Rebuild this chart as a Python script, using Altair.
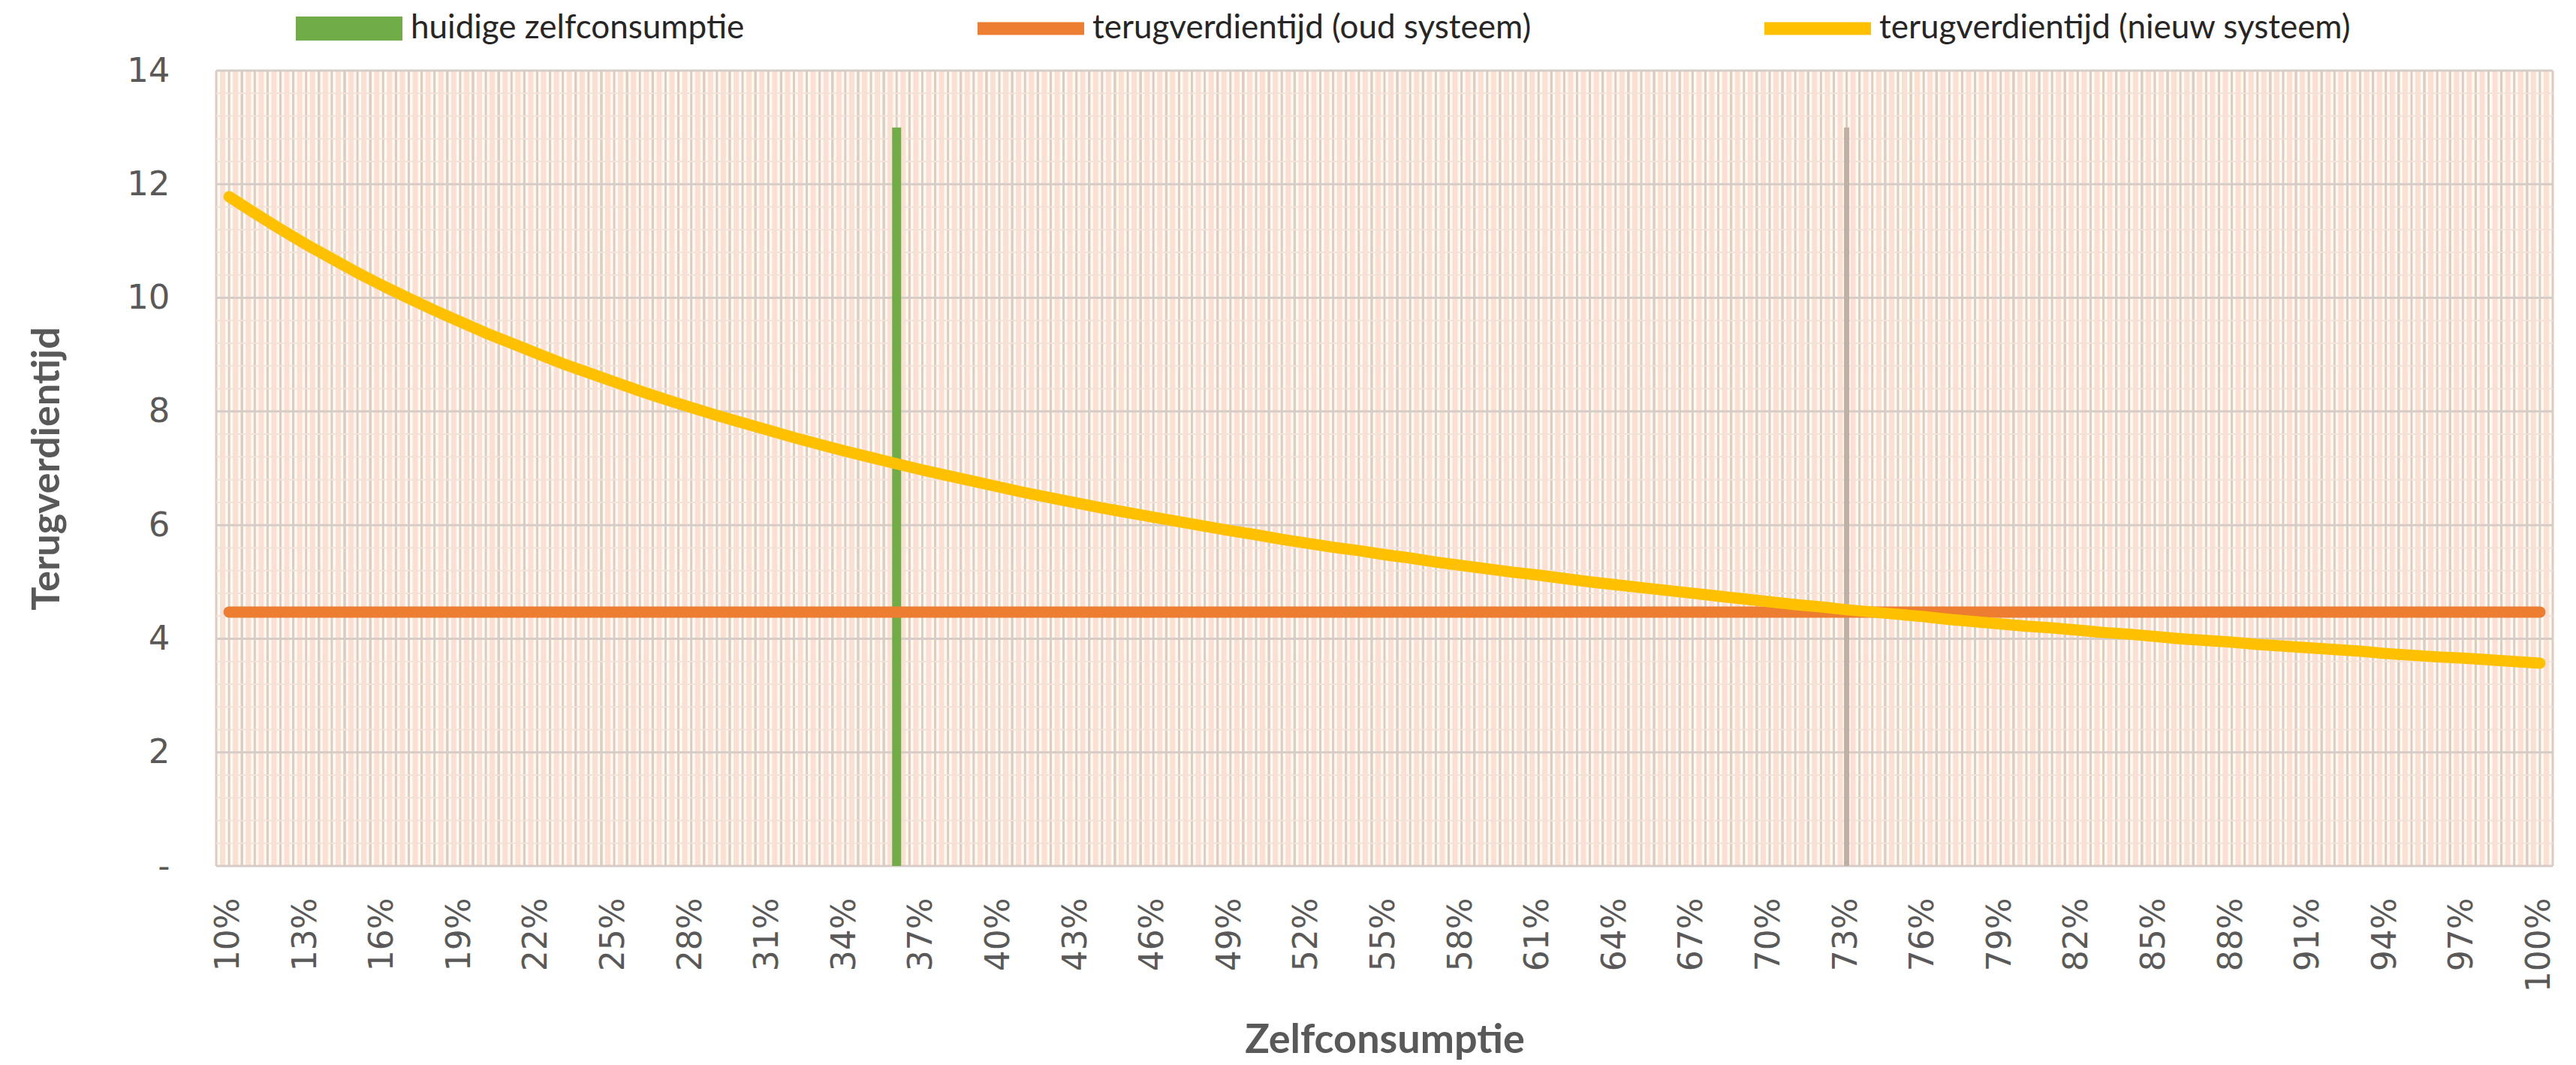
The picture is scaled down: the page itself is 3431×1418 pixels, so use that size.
import altair as alt
import pandas as pd

# ---------------- data ----------------
categories = [f"{p}%" for p in range(10, 101)]
tick_labels = ["10%", "13%", "16%", "19%", "22%", "25%", "28%", "31%", "34%", "37%",
               "40%", "43%", "46%", "49%", "52%", "55%", "58%", "61%", "64%", "67%",
               "70%", "73%", "76%", "79%", "82%", "85%", "88%", "91%", "94%", "97%", "100%"]

# terugverdientijd (nieuw systeem) per zelfconsumptie-percentage (10% .. 100%)
nieuw = [11.78, 11.49, 11.21, 10.94, 10.69, 10.44, 10.21, 9.99, 9.78, 9.58,
         9.38, 9.20, 9.02, 8.84, 8.68, 8.52, 8.36, 8.21, 8.07, 7.93,
         7.80, 7.67, 7.54, 7.42, 7.30, 7.19, 7.08, 6.97, 6.87, 6.77,
         6.67, 6.57, 6.48, 6.39, 6.30, 6.22, 6.14, 6.06, 5.98, 5.90,
         5.83, 5.75, 5.68, 5.61, 5.55, 5.48, 5.42, 5.35, 5.29, 5.23,
         5.17, 5.12, 5.06, 5.00, 4.95, 4.90, 4.85, 4.80, 4.75, 4.70,
         4.65, 4.60, 4.56, 4.51, 4.47, 4.43, 4.39, 4.34, 4.30, 4.26,
         4.22, 4.19, 4.15, 4.11, 4.08, 4.04, 4.00, 3.97, 3.94, 3.90,
         3.87, 3.84, 3.81, 3.78, 3.74, 3.71, 3.68, 3.66, 3.63, 3.60, 3.57]

oud_value = 4.47                 # terugverdientijd (oud systeem), constant
huidige_cat = "36%"              # huidige zelfconsumptie
huidige_value = 13
breakeven_cat = "73%"
breakeven_value = 13

series_names = ["huidige zelfconsumptie", "terugverdientijd (oud systeem)",
                "terugverdientijd (nieuw systeem)"]
series_colors = ["#70AD47", "#ED7D31", "#FFC000"]

y_major = [0, 2, 4, 6, 8, 10, 12, 14]
y_minor = [0.4, 0.8, 1.2, 1.6, 2.4, 2.8, 3.2, 3.6, 4.4, 4.8, 5.2, 5.6,
           6.4, 6.8, 7.2, 7.6, 8.4, 8.8, 9.2, 9.6, 10.4, 10.8, 11.2, 11.6,
           12.4, 12.8, 13.2, 13.6]

# ---------------- tables ----------------
cat_df = pd.DataFrame({"cat": categories})
nieuw_df = pd.DataFrame({"cat": categories, "value": nieuw})
oud_df = pd.DataFrame({"start": [categories[0]], "end": [categories[-1]], "value": [oud_value]})
huidige_df = pd.DataFrame({"cat": [huidige_cat], "value": [huidige_value]})
breakeven_df = pd.DataFrame({"cat": [breakeven_cat], "value": [breakeven_value]})
major_df = pd.DataFrame({"v": y_major})
minor_df = pd.DataFrame({"v": y_minor})
legend_df = pd.DataFrame({"series": series_names})

W, H = 3112, 1059
xscale = alt.Scale(domain=categories, paddingInner=0, paddingOuter=0)
yscale = alt.Scale(domain=[0, 14], nice=False, zero=True)

x_axis = alt.Axis(values=tick_labels, labelAngle=270, labelFont="DejaVu Sans",
                  labelFontSize=44, labelColor="#595959", labelPadding=42,
                  ticks=False, domain=False, grid=False,
                  title="Zelfconsumptie", titleFont="Lato", titleFontSize=54,
                  titleFontWeight="bold", titleColor="#595959",
                  titleY=232, titleBaseline="middle")
y_axis = alt.Axis(values=y_major, labelExpr="datum.value == 0 ? '-' : datum.label",
                  labelFont="DejaVu Sans", labelFontSize=45, labelColor="#595959",
                  labelPadding=62, ticks=False, domain=False, grid=False,
                  title="Terugverdientijd", titleFont="Lato", titleFontSize=52,
                  titleFontWeight="bold", titleColor="#595959",
                  titleAngle=270, titleX=-226, titleY=H / 2,
                  titleAlign="center", titleBaseline="middle")


def X(field, **kw):
    return alt.X(field, scale=xscale, sort=categories, axis=x_axis, **kw)


def Y(field):
    return alt.Y(field, scale=yscale, axis=y_axis)


# vertical grid texture
def vgrid(band_pos, color, width):
    return alt.Chart(cat_df).mark_rule(color=color, strokeWidth=width).encode(
        x=X("cat:N", bandPosition=band_pos)
    )


grid_pink1 = vgrid(0.25, "#fbdfd3", 7)
grid_pink2 = vgrid(0.75, "#fbdfd3", 7)
grid_edge = vgrid(0, "#dfcbbf", 3)
grid_center = vgrid(0.5, "#dfcbbf", 3)
grid_last = vgrid(1, "#dfcbbf", 3)

minor_h = alt.Chart(minor_df).mark_rule(color="#f1e2da", strokeWidth=2).encode(y=Y("v:Q"))
major_h = alt.Chart(major_df).mark_rule(color="#d6cdc9", strokeWidth=3).encode(y=Y("v:Q"))

huidige_bar = alt.Chart(huidige_df).mark_bar(color="#70AD47", size=12).encode(
    x=X("cat:N"), y=Y("value:Q"))
breakeven_bar = alt.Chart(breakeven_df).mark_bar(color="#BFB0A6", size=7).encode(
    x=X("cat:N"), y=Y("value:Q"))

oud = alt.Chart(oud_df).mark_rule(color="#ED7D31", strokeWidth=15, strokeCap="round").encode(
    x=X("start:N"), x2="end:N", y=Y("value:Q"))

nieuw_line = alt.Chart(nieuw_df).mark_line(color="#FFC000", strokeWidth=15,
                                           strokeCap="round", strokeJoin="round").encode(
    x=X("cat:N"), y=Y("value:Q"))

rect_path = "M-1,-0.225L1,-0.225L1,0.225L-1,0.225Z"
line_path = "M-1,-0.12L1,-0.12L1,0.12L-1,0.12Z"
leg = alt.Legend(orient="none", legendX=106, legendY=-127, direction="horizontal",
                 title=None, symbolSize=20164, labelFont="Lato", labelFontSize=44,
                 labelColor="#262626", columnPadding=310, labelLimit=1200,
                 labelOffset=11, symbolOpacity=1, symbolStrokeWidth=0)
legend_layer = alt.Chart(legend_df).mark_point(filled=True, opacity=0).encode(
    x=alt.value(0), y=alt.value(0),
    color=alt.Color("series:N", scale=alt.Scale(domain=series_names, range=series_colors),
                    legend=leg),
    shape=alt.Shape("series:N", scale=alt.Scale(domain=series_names,
                                                range=[rect_path, line_path, line_path]),
                    legend=leg),
)

chart = alt.layer(
    grid_pink1, grid_pink2, grid_edge, grid_center, grid_last,
    minor_h, major_h, huidige_bar, breakeven_bar, oud, nieuw_line, legend_layer
).properties(
    width=W, height=H,
    autosize=alt.AutoSizeParams(type="none"),
    padding={"left": 280, "top": 86, "right": 23, "bottom": 262},
    background="white",
).configure_view(stroke=None, fill="#fffaf2")

chart.save("out.html", embed_options={"renderer": "svg", "actions": False})
